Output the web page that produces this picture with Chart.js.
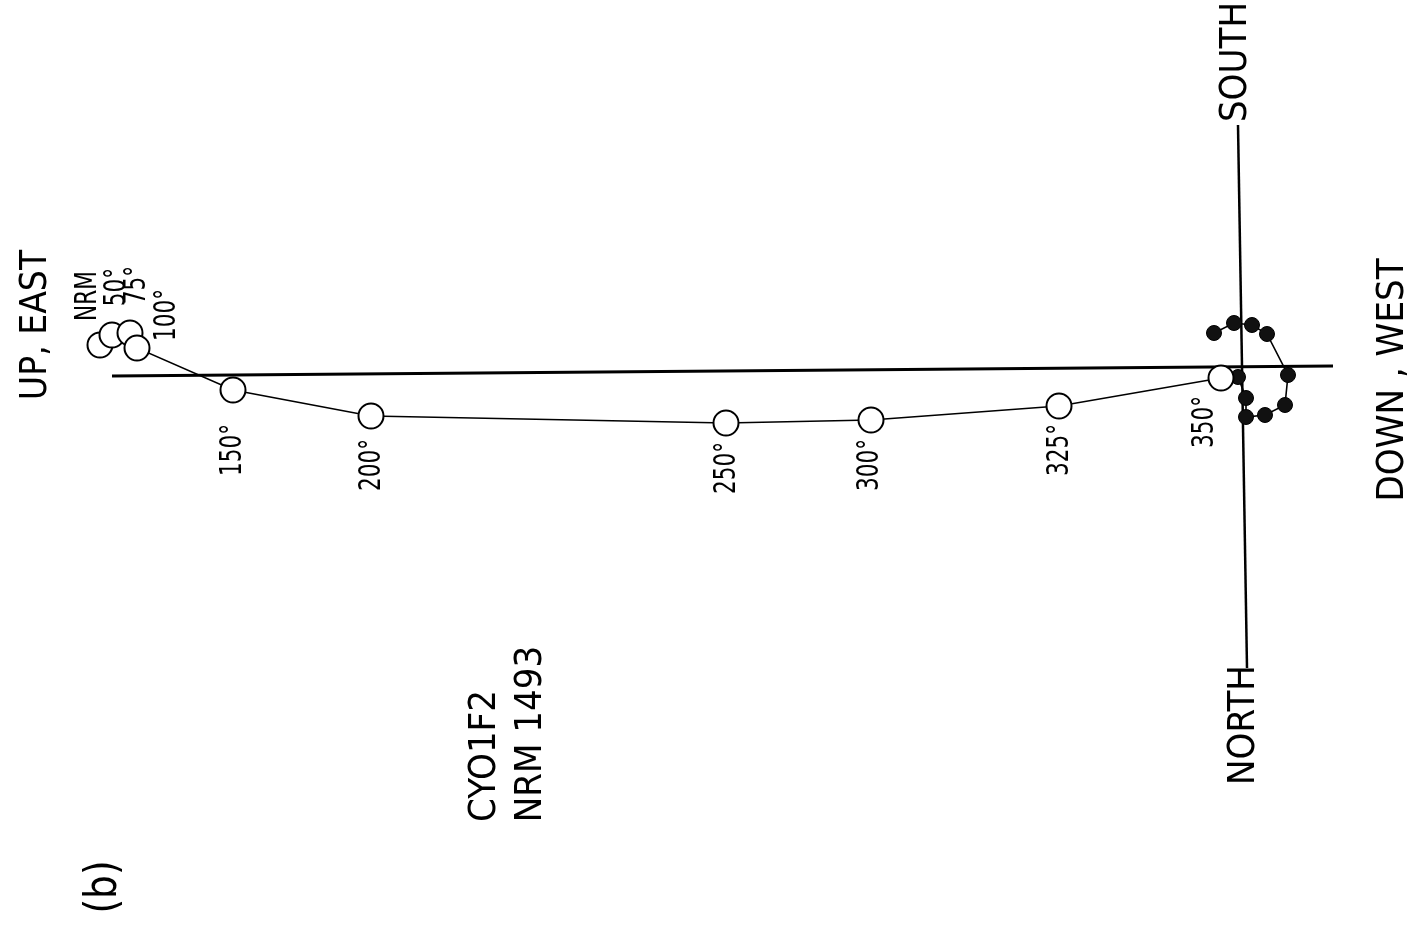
<!DOCTYPE html>
<html>
<head>
<meta charset="utf-8">
<script src="https://cdn.jsdelivr.net/npm/chart.js@4/dist/chart.umd.min.js"></script>
<style>
    html, body { margin: 0; padding: 0; background: #fff; }
    #zij { display: block; }
</style>
</head>
<body>
<canvas id="zij" width="1423" height="943"></canvas>
<script>
// demag steps
var stepLabels = ["NRM", "50°", "75°", "100°", "150°", "200°", "250°", "300°", "325°", "350°"];

// vertical projection (open circles): up/east component, north component
var openH = [114.0, 112.8, 111.0, 110.3, 100.7, 86.9, 51.4, 36.9, 18.1, 1.9];
var openV = [-2.5, -3.5, -3.7, -2.2, 2.0, 4.6, 5.3, 5.0, 3.6, 0.8];

// horizontal projection (filled circles)
var filledH = [2.6, 0.6, -1.2, -2.7, -4.8, -4.5, -2.5, -0.6, -0.6, 0.2];
var filledV = [-3.7, -4.7, -4.5, -3.6, 0.5, 3.5, 4.5, 4.7, 2.8, 0.7];

// axis ends
var axisH = [112.8, -9.3];
var axisHV = [0.6, -0.4];
var axisV = [0.2, -0.7];
var axisVV = [-24.5, 29.8];

// label offsets from their point, in pixels
var labelOffsets = [[-12, -49], [5, -48], [7, -48], [30, -33], [0, 60], [1, 49], [1, 45], [-1, 45], [1, 44], [-16, 44]];

var FONT = '"Liberation Sans Narrow", "DejaVu Sans Condensed", "DejaVu Sans", sans-serif';

var fixedTexts = [
    { text: "UP, EAST", x: 36, y: 325, size: 38, squeeze: 0.97 },
    { text: "DOWN , WEST", x: 1393, y: 380, size: 38, squeeze: 1 },
    { text: "SOUTH", x: 1236, y: 62, size: 38, squeeze: 1 },
    { text: "NORTH", x: 1244, y: 725, size: 38, squeeze: 1 },
    { text: "CYO1F2", x: 485, y: 756, size: 38, squeeze: 1 },
    { text: "NRM 1493", x: 531, y: 734, size: 38, squeeze: 1 },
    { text: "(b)", x: 105, y: 887, size: 44, squeeze: 0.95 }
];

function toPoints(xs, ys) {
    return xs.map(function(v, i) { return { x: v, y: ys[i] }; });
}

function drawUpText(ctx, text, x, y, size, squeeze) {
    ctx.save();
    ctx.translate(x, y);
    ctx.rotate(-Math.PI / 2);
    ctx.scale(squeeze, 1);
    ctx.font = size + "px " + FONT;
    ctx.fillStyle = "#000";
    ctx.textAlign = "center";
    ctx.textBaseline = "middle";
    ctx.fillText(text, 0, 0);
    ctx.restore();
}

const labelPlugin = {
    id: "zijLabels",
    afterDatasetsDraw: function(chart) {
        var ctx = chart.ctx;
        var xs = chart.scales.x;
        var ys = chart.scales.y;
        stepLabels.forEach(function(lbl, i) {
            var px = xs.getPixelForValue(openH[i]) + labelOffsets[i][0];
            var py = ys.getPixelForValue(openV[i]) + labelOffsets[i][1];
            drawUpText(ctx, lbl, px, py, 30, 0.8);
        });
        fixedTexts.forEach(function(t) {
            drawUpText(ctx, t.text, t.x, t.y, t.size, t.squeeze);
        });
    }
};

document.addEventListener("DOMContentLoaded", function () {
    var target = document.getElementById("zij");
    var charts = new Chart(target, {
        type: "scatter",
        data: {
            datasets: [
                {
                    label: "open",
                    data: toPoints(openH, openV),
                    showLine: true,
                    borderColor: "#000",
                    borderWidth: 1.6,
                    pointRadius: 12.5,
                    pointBackgroundColor: "#fff",
                    pointBorderColor: "#000",
                    pointBorderWidth: 2,
                    order: 1
                },
                {
                    label: "filled",
                    data: toPoints(filledH, filledV),
                    showLine: true,
                    borderColor: "#000",
                    borderWidth: 1.6,
                    pointRadius: 7.5,
                    pointBackgroundColor: "#111",
                    pointBorderColor: "#000",
                    pointBorderWidth: 1,
                    order: 2
                },
                {
                    label: "h-axis",
                    data: toPoints(axisH, axisHV),
                    showLine: true,
                    borderColor: "#000",
                    borderWidth: 3,
                    pointRadius: 0,
                    order: 3
                },
                {
                    label: "v-axis",
                    data: toPoints(axisV, axisVV),
                    showLine: true,
                    borderColor: "#000",
                    borderWidth: 2.5,
                    pointRadius: 0,
                    order: 4
                }
            ]
        },
        options: {
            responsive: false,
            animation: false,
            layout: { padding: 0, autoPadding: false },
            plugins: {
                legend: { display: false },
                tooltip: { enabled: false }
            },
            scales: {
                x: { type: "linear", reverse: true, min: -18.3, max: 124.0, display: false },
                y: { type: "linear", reverse: true, min: -37.0, max: 57.3, display: false }
            }
        },
        plugins: [labelPlugin]
    });
});
</script>
</body>
</html>
